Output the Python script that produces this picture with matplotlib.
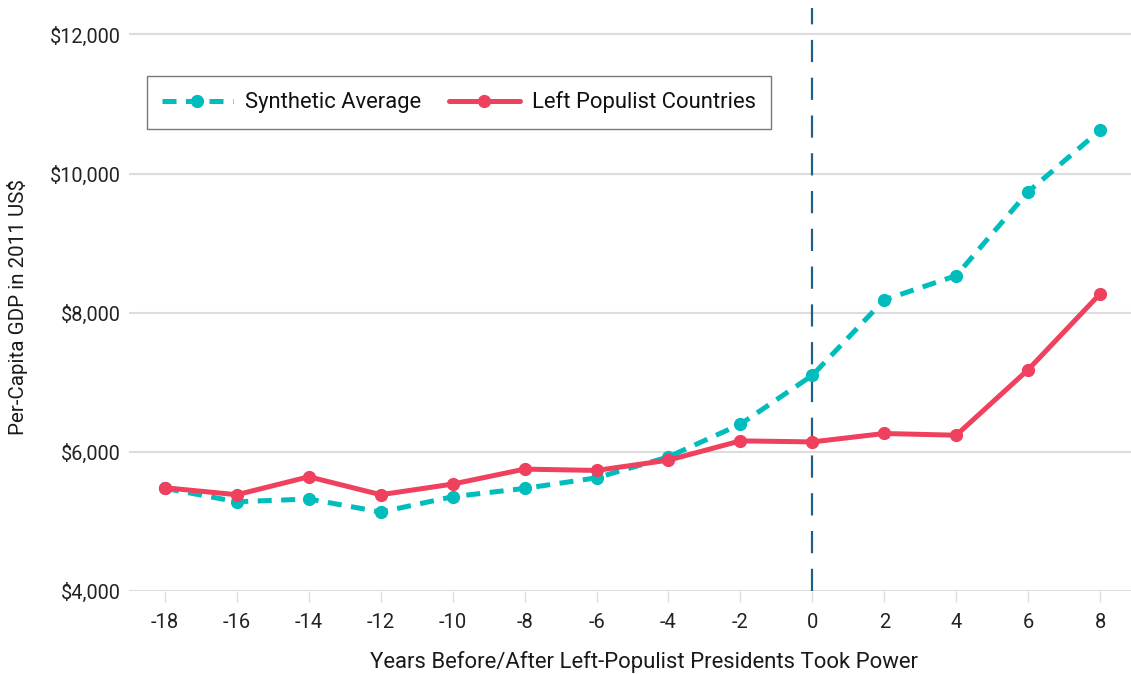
import matplotlib
matplotlib.use("Agg")
import matplotlib.pyplot as plt
from matplotlib.ticker import FuncFormatter, FixedLocator

years = [-18, -16, -14, -12, -10, -8, -6, -4, -2, 0, 2, 4, 6, 8]
synthetic = [5475, 5283, 5322, 5135, 5355, 5475, 5627, 5928, 6397, 7100, 8185, 8533, 9738, 10622]
left_populist = [5484, 5384, 5642, 5384, 5537, 5752, 5733, 5881, 6158, 6143, 6264, 6239, 7181, 8271]
y_ticks = [4000, 6000, 8000, 10000, 12000]

TEAL = "#00BDBD"
RED = "#EF405E"
VLINE = "#1F5F8B"

fam = ['Roboto', 'DejaVu Sans']

W, H = 1131, 674
fig = plt.figure(figsize=(W / 100, H / 100), dpi=100)
left_px, right_px, top_px, bot_px = 129, 1131, 8, 591
ax = fig.add_axes([left_px / W, (H - bot_px) / H, (right_px - left_px) / W, (bot_px - top_px) / H])

ax.set_xlim(-19, 8.86)
ax.set_ylim(4000, 12380)

ax.axvline(0, color=VLINE, lw=1.6, dashes=(10, 7), zorder=1)

ax.plot(years, synthetic, color=TEAL, lw=3.6, dashes=(2.8, 1.9), marker='o', ms=8.5,
        label='Synthetic Average', zorder=3, dash_capstyle='butt')
ax.plot(years, left_populist, color=RED, lw=3.6, marker='o', ms=8.5,
        label='Left Populist Countries', zorder=4, solid_capstyle='round')

for s in ax.spines.values():
    s.set_visible(False)
ax.yaxis.set_major_locator(FixedLocator(y_ticks))
ax.yaxis.set_major_formatter(FuncFormatter(lambda v, p: f"${int(v):,}"))
ax.grid(axis='y', color='#DDDDDD', lw=1.5)
ax.set_axisbelow(True)
ax.tick_params(axis='y', length=0, pad=6, labelsize=14.3, labelcolor='#222222')
for lab in ax.get_yticklabels():
    lab.set_family(fam)
ax.set_xticks(years)
ax.set_xticklabels([str(y) for y in years], family=fam, fontsize=14.5, color='#222222')
ax.tick_params(axis='x', length=8, width=1, color='#DDDDDD', pad=8)

ax.set_xlabel('Years Before/After Left-Populist Presidents Took Power', family=fam,
              fontsize=15.9, color='#1a1a1a')
ax.xaxis.set_label_coords((644 - left_px) / (right_px - left_px), -(662 - bot_px) / (bot_px - top_px))
ax.xaxis.label.set_va('center')
ax.set_ylabel('Per-Capita GDP in 2011 US$', family=fam, fontsize=14.8, color='#1a1a1a')
ax.yaxis.set_label_coords(-(left_px - 18) / (right_px - left_px), (bot_px - 307) / (bot_px - top_px))
ax.yaxis.label.set_va('center')

leg = ax.legend(loc='upper left', bbox_to_anchor=(147 / W, 1 - 76 / H), bbox_transform=fig.transFigure,
                ncol=2, frameon=True, fancybox=False, borderaxespad=0, prop={'family': fam, 'size': 15.8},
                handlelength=3.2, handletextpad=0.55, columnspacing=1.3, borderpad=0.7)
leg.get_frame().set_edgecolor('#555555')
leg.get_frame().set_linewidth(1.0)
for t in leg.get_texts():
    t.set_color('#111111')

fig.savefig('out.png', dpi=100)
